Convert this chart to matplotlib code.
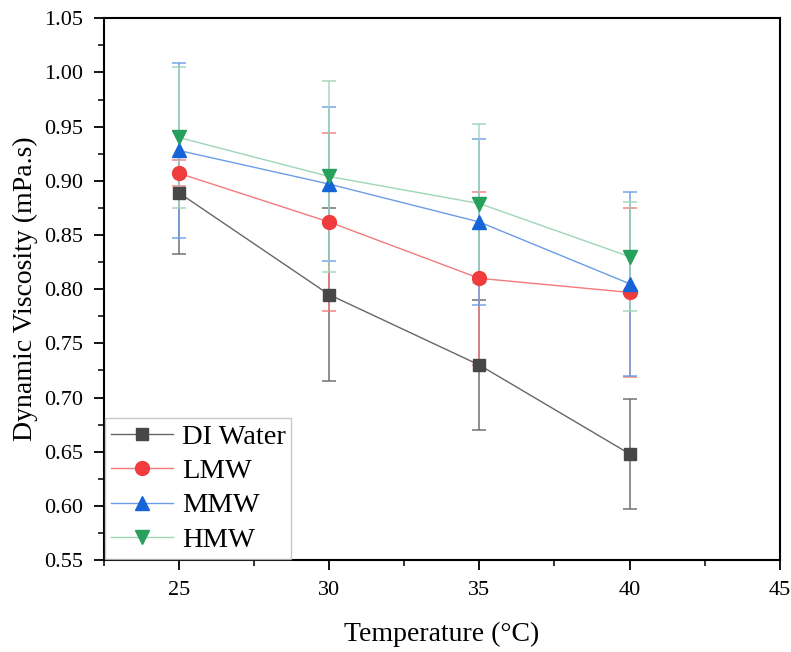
import matplotlib.pyplot as plt
from matplotlib.ticker import MultipleLocator

plt.rcParams['font.family'] = ['Liberation Serif', 'DejaVu Serif']

temperature = [25, 30, 35, 40]

di_water = [0.889, 0.795, 0.730, 0.648]
di_err = [0.057, 0.080, 0.060, 0.051]

lmw = [0.907, 0.862, 0.810, 0.797]
lmw_err = [0.012, 0.082, 0.080, 0.078]

mmw = [0.928, 0.897, 0.862, 0.805]
mmw_err = [0.081, 0.071, 0.077, 0.085]

hmw = [0.940, 0.904, 0.879, 0.830]
hmw_err = [0.065, 0.088, 0.073, 0.050]

# name, values, errors, marker, marker colour, line colour, marker size
series = [
    ('DI Water', di_water, di_err, 's', '#474747', '#666666', 9),
    ('LMW', lmw, lmw_err, 'o', '#f03c3c', '#f47a7a', 10),
    ('MMW', mmw, mmw_err, '^', '#1764d8', '#6b9de8', 10.5),
    ('HMW', hmw, hmw_err, 'v', '#26a05c', '#9fd6b8', 10.5),
]

fig = plt.figure(figsize=(7.91, 6.52), dpi=100)
ax = fig.add_axes([0.131, 0.141, 0.855, 0.831])

for name, vals, err, marker, mcolor, lcolor, ms in series:
    ax.errorbar(temperature, vals, yerr=err, fmt='none', ecolor=lcolor,
                elinewidth=1.2, capsize=5, capthick=1.2, alpha=0.85, zorder=2)
    ax.plot(temperature, vals, color=lcolor, linewidth=1.0, marker=marker,
            markersize=ms, markerfacecolor=mcolor, markeredgecolor=mcolor,
            label=name, zorder=3)

ax.set_xlim(22.5, 45)
ax.set_ylim(0.55, 1.05)
ax.xaxis.set_major_locator(MultipleLocator(5))
ax.xaxis.set_minor_locator(MultipleLocator(2.5))
ax.yaxis.set_major_locator(MultipleLocator(0.05))
ax.yaxis.set_minor_locator(MultipleLocator(0.025))
ax.yaxis.set_major_formatter(plt.FormatStrFormatter('%.2f'))

ax.tick_params(which='major', direction='out', length=7, width=1.3,
               labelsize=16, pad=8, top=False, right=False)
ax.tick_params(which='minor', direction='out', length=4, width=1.1,
               top=False, right=False)
for spine in ax.spines.values():
    spine.set_linewidth(1.5)

ax.set_xlabel('Temperature (°C)', fontsize=20, labelpad=16)
ax.set_ylabel('Dynamic Viscosity (mPa.s)', fontsize=20, labelpad=4)

leg = ax.legend(loc='lower left', fontsize=20.5, frameon=True, fancybox=False,
                borderaxespad=0.05, handlelength=2.2, handletextpad=0.3,
                labelspacing=0.3, borderpad=0.2)
leg.get_frame().set_edgecolor('#bbbbbb')
leg.get_frame().set_linewidth(1.0)

fig.savefig('out.png', dpi=100)
